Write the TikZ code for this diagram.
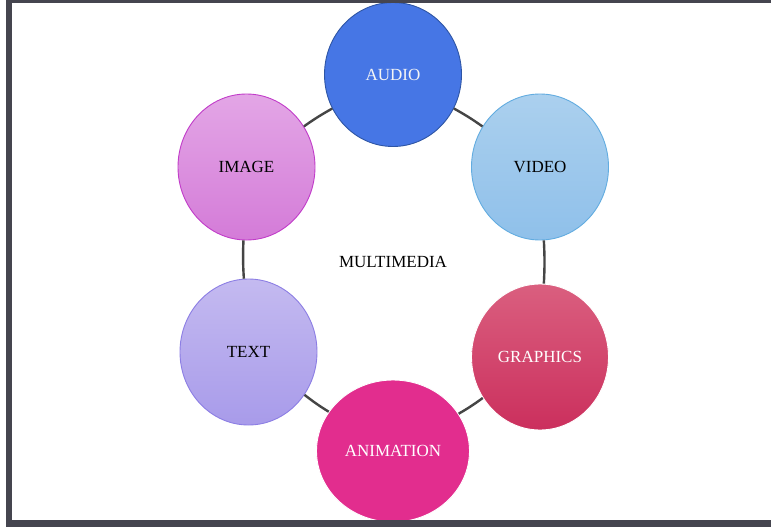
\documentclass[tikz,border=0pt]{standalone}
\usepackage{fontspec}
\setmainfont{Liberation Serif}
\usetikzlibrary{shapes.geometric}
\definecolor{framec}{HTML}{45454F}
\definecolor{linec}{HTML}{454545}
\definecolor{animf}{HTML}{E22D8E}
\definecolor{audiod}{HTML}{2E55A5}
\definecolor{audiof}{HTML}{4676E5}
\definecolor{audiot}{HTML}{F5F5F5}
\definecolor{imaged}{HTML}{C13CC9}
\definecolor{imaget}{HTML}{E3A6E6}
\definecolor{imageb}{HTML}{D47BD8}
\definecolor{videod}{HTML}{62ACE0}
\definecolor{videot}{HTML}{ABD0EE}
\definecolor{videob}{HTML}{8FC0EA}
\definecolor{grapht}{HTML}{DA5F7F}
\definecolor{graphb}{HTML}{CB2F5D}
\definecolor{textd}{HTML}{8C7EE4}
\definecolor{textt}{HTML}{C4BAF0}
\definecolor{textb}{HTML}{A89BEA}
\tikzset{
  bubble/.style={ellipse, inner sep=0pt, minimum width=137pt, minimum height=146pt,
    line width=0.9pt, font=\fontsize{17}{20}\selectfont},
  ring/.style={draw=linec, line width=2.4pt, bend left=3},
}
\begin{document}
\begin{tikzpicture}[x=1pt,y=-1pt]
\useasboundingbox (0,0) rectangle (771,527);
\fill[white] (0,0) rectangle (771,527);
% nodes
\node[bubble, draw=white, fill=animf, minimum width=153pt, minimum height=142pt,
  text=white] (anim) at (393,451) {ANIMATION};
\node[bubble, draw=audiod, fill=audiof, text=audiot, minimum height=144pt] (audio) at (393,74.5) {AUDIO};
\node[bubble, draw=imaged, top color=imaget, bottom color=imageb] (image) at (246.5,167) {IMAGE};
\node[bubble, draw=videod, top color=videot, bottom color=videob] (video) at (540,167) {VIDEO};
\node[bubble, draw=white, top color=grapht, bottom color=graphb, text=white] (graph) at (540,357) {GRAPHICS};
\node[bubble, draw=textd, top color=textt, bottom color=textb] (text) at (248.5,352) {TEXT};
\node[font=\fontsize{17}{20}\selectfont] (mm) at (393,262) {MULTIMEDIA};
% ring connectors
\draw[ring] (image) to (audio);
\draw[ring] (audio) to (video);
\draw[ring] (video) to (graph);
\draw[ring] (graph) to (anim);
\draw[ring] (anim) to (text);
\draw[ring] (text) to (image);
% frame
\fill[framec] (6,0) rectangle (771,3.5);
\fill[framec] (6,0) rectangle (11.5,527);
\fill[framec] (6,520) rectangle (771,527);
\end{tikzpicture}
\end{document}
